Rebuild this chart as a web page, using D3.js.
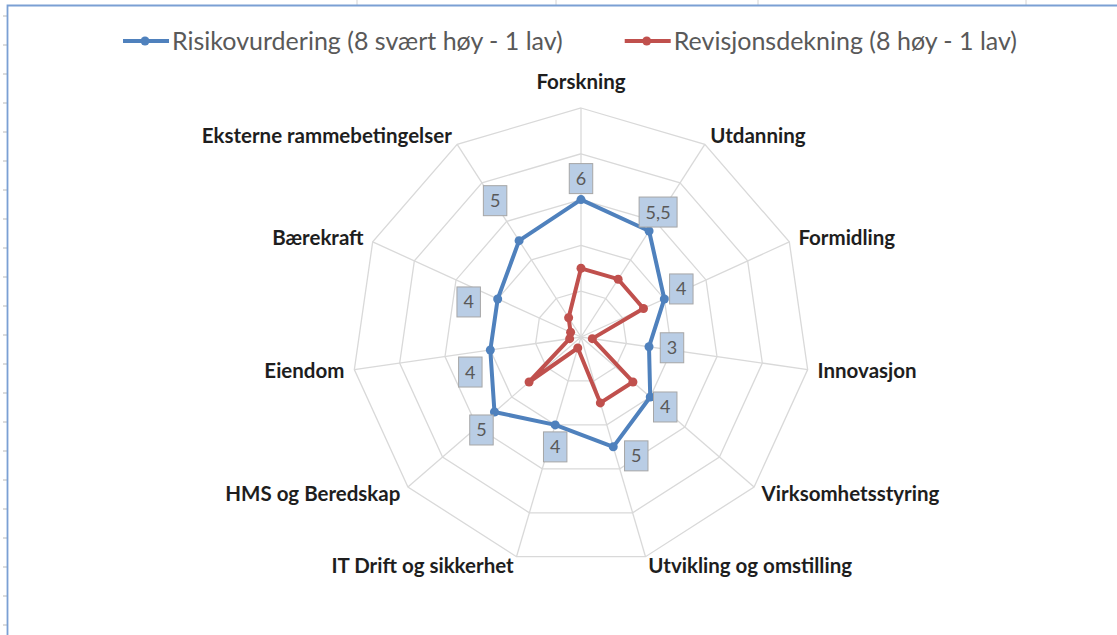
<!doctype html>
<html lang="no">
<head>
  <meta charset="utf-8" />
  <title>Risikovurdering og revisjonsdekning</title>
  <script src="https://cdn.jsdelivr.net/npm/d3@7"></script>
  <style>
    body { margin: 0; background: #fff; }
    svg { display: block; }
  </style>
</head>
<body>
  <div id="chart"></div>
  <script>
    const categories = ["Forskning", "Utdanning", "Formidling", "Innovasjon", "Virksomhetsstyring",
      "Utvikling og omstilling", "IT Drift og sikkerhet", "HMS og Beredskap", "Eiendom",
      "Bærekraft", "Eksterne rammebetingelser"];
    const seriesNames = ["Risikovurdering (8 svært høy - 1 lav)", "Revisjonsdekning (8 høy - 1 lav)"];
    const riskValues = [6, 5.5, 4, 3, 4, 5, 4, 5, 4, 4, 5];
    const coverageValues = [3, 3, 3, 0.5, 3, 3, 0.5, 3, 0.5, 0.5, 1];
    const ringTicks = [2, 4, 6, 8, 10];

    // where Excel put each data label box, relative to its point
    const labelShift = [[0, -21], [9, -19], [17, -10], [23, 1], [15, 10], [23, 9],
      [0, 22], [-13, 18], [-20, 22], [-29, 3], [-24, -40]];

    const w = 1117, h = 635;
    const cx = 581, cy = 337, R = 229;
    const colors = ["#4f81bd", "#c0504d"];

    const svg = d3.select("#chart").append("svg").attr("width", w).attr("height", h);

    // bits of the spreadsheet around the chart
    svg.append("g").selectAll("line").data([357, 556, 758, 1026]).enter().append("line")
      .attr("x1", d => d).attr("x2", d => d).attr("y1", 0).attr("y2", 5)
      .style("stroke", "#d4d4d4");
    svg.append("g").selectAll("line").data(d3.range(16, h, 29)).enter().append("line")
      .attr("x1", 3).attr("x2", 7).attr("y1", d => d).attr("y2", d => d)
      .style("stroke", "#d0d0d0").style("stroke-width", 1.5);
    svg.append("path")
      .attr("d", `M7.5,${h} V5.5 H${w}`)
      .style("fill", "none").style("stroke", "#7ba0d4").style("stroke-width", 1.8);

    const r = d3.scaleLinear().domain([0, 10]).range([0, R]);
    const angle = i => i * 2 * Math.PI / categories.length;

    const plot = svg.append("g").attr("transform", `translate(${cx},${cy})`);

    // grid rings and spokes
    const ring = d3.lineRadial().angle((d, i) => angle(i)).radius(d => r(d)).curve(d3.curveLinearClosed);
    plot.append("g").selectAll("path").data(ringTicks).enter().append("path")
      .attr("d", t => ring(categories.map(() => t)))
      .style("fill", "none").style("stroke", "#d9d9d9").style("stroke-width", 1.3);
    plot.append("g").selectAll("line").data(categories).enter().append("line")
      .attr("x1", 0).attr("y1", 0)
      .attr("x2", (d, i) => d3.pointRadial(angle(i), R)[0])
      .attr("y2", (d, i) => d3.pointRadial(angle(i), R)[1])
      .style("stroke", "#d9d9d9").style("stroke-width", 1.3);

    // category labels
    plot.append("g").selectAll("text").data(categories).enter().append("text")
      .text(d => d)
      .each(function(d, i) {
        const a = angle(i);
        const s = Math.sin(a);
        const [x, y] = d3.pointRadial(a, R + 10);
        const t = d3.select(this);
        if (Math.abs(s) < 0.01) {
          t.attr("x", x).attr("y", -R - 19).attr("text-anchor", "middle");
        } else {
          t.attr("x", x).attr("y", y).attr("dy", "0.35em")
            .attr("text-anchor", s > 0 ? "start" : "end");
        }
      })
      .style("font-family", "Lato, 'Open Sans', sans-serif")
      .style("font-weight", "bold")
      .style("font-size", "20.5px")
      .style("fill", "#1e1e1e");

    const seriesData = [riskValues, coverageValues];
    const line = d3.lineRadial().angle((d, i) => angle(i)).radius(d => r(d)).curve(d3.curveLinearClosed);

    seriesData.forEach((vals, k) => {
      const g = plot.append("g");
      g.append("path")
        .attr("d", line(vals))
        .style("fill", "none")
        .style("stroke", colors[k])
        .style("stroke-width", 4)
        .style("stroke-linejoin", "round");
      g.selectAll("circle").data(vals).enter().append("circle")
        .attr("cx", (d, i) => d3.pointRadial(angle(i), r(d))[0])
        .attr("cy", (d, i) => d3.pointRadial(angle(i), r(d))[1])
        .attr("r", 4.5)
        .style("fill", colors[k]);
    });

    // data labels for the risk series
    const fmt = d3.formatLocale({ decimal: ",", thousands: " ", grouping: [3], currency: ["", " kr"] }).format("~g");
    const labels = plot.append("g").selectAll("g").data(riskValues).enter().append("g")
      .attr("transform", (d, i) => {
        const [x, y] = d3.pointRadial(angle(i), r(d));
        return `translate(${x + labelShift[i][0]},${y + labelShift[i][1]})`;
      });
    labels.append("rect");
    labels.append("text")
      .text(d => fmt(d))
      .attr("text-anchor", "middle")
      .attr("dy", "0.36em")
      .style("font-family", "Lato, 'Open Sans', sans-serif")
      .style("font-size", "18px")
      .style("fill", "#595959");
    labels.each(function() {
      const tw = d3.select(this).select("text").node().getComputedTextLength();
      const bw = tw + 13, bh = 30;
      d3.select(this).select("rect")
        .attr("x", -bw / 2).attr("y", -bh / 2).attr("width", bw).attr("height", bh)
        .style("fill", "#b9cde5").style("stroke", "#a6a6a6").style("stroke-width", 1);
    });

    // legend
    const legend = svg.append("g").attr("transform", "translate(0,41)");
    const items = legend.selectAll("g").data(seriesNames).enter().append("g");
    items.append("line").attr("x1", 0).attr("x2", 46).attr("y1", 0).attr("y2", 0)
      .style("stroke", (d, i) => colors[i]).style("stroke-width", 4);
    items.append("circle").attr("cx", 22).attr("cy", 0).attr("r", 4.5)
      .style("fill", (d, i) => colors[i]);
    items.append("text").text(d => d)
      .attr("x", 49).attr("dy", "0.35em")
      .style("font-family", "Lato, 'Open Sans', sans-serif")
      .style("font-size", "25px")
      .style("fill", "#595959");
    const widths = [];
    items.each(function() {
      widths.push(49 + d3.select(this).select("text").node().getComputedTextLength());
    });
    const gap = 62;
    const total = d3.sum(widths) + gap * (widths.length - 1);
    let xPos = 570 - total / 2;
    items.attr("transform", (d, i) => {
      const x = xPos;
      xPos += widths[i] + gap;
      return `translate(${x},0)`;
    });
  </script>
</body>
</html>
